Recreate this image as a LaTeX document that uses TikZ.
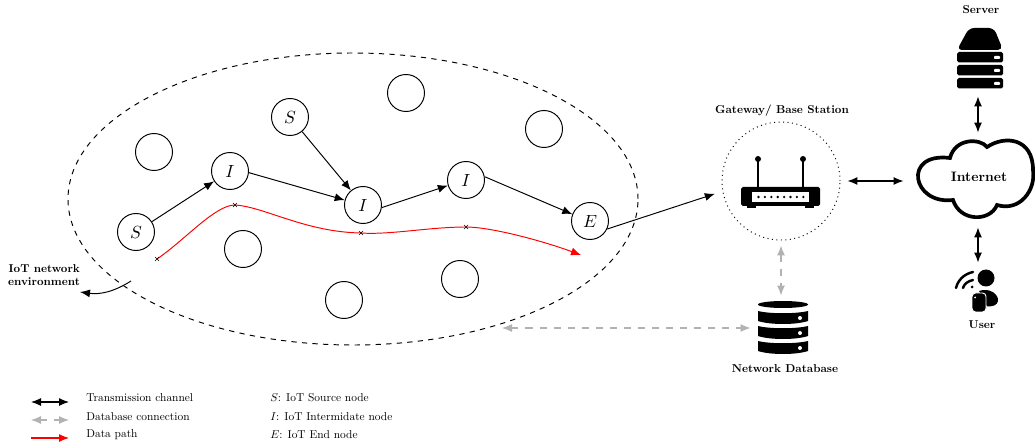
\documentclass[tikz,border=0pt]{standalone}
\usetikzlibrary{
    arrows.meta,
    positioning,
    shapes.geometric,
    shapes.misc
}
\tikzset{
    every picture/.style = {
        > = {Latex[length=2mm, width=1.6mm]},
        line width = 0.55pt
    },
    iot/.style = {
        draw,
        circle,
        inner sep = 0pt,
        minimum size = 7.4mm,
        font = \normalsize
    },
    envelope/.style = {
        draw,
        dashed,
        ellipse,
        inner sep = 0pt,
        minimum width = 11.4cm,
        minimum height = 5.84cm
    },
    holder/.style = {
        inner sep = 0pt,
        minimum width = #1
    },
    title/.style = {
        inner sep = 0pt,
        transform shape,
        scale = 0.65,
        font = \bfseries,
        align = right
    },
    key/.style = {
        inner sep = 0pt,
        transform shape,
        scale = 0.65,
        anchor = west
    },
    link/.style = {<->, line width = 0.65pt},
    dblink/.style = {<->, line width = 0.65pt, gray!60, dash pattern = on 4pt off 4pt},
    waypoint/.style = {
        cross out,
        draw = black,
        line width = 0.3pt,
        inner sep = 0pt,
        minimum size = 2pt
    }
}

\begin{document}
\begin{tikzpicture}[x = 0.2mm, y = -0.2mm]
    \useasboundingbox (0, 0) rectangle (1035, 444);

    % environment and its nodes
    \node[envelope] (env) at (353, 199) {};
    \node[iot] (s1) at (136, 232) {$S$};
    \node[iot] (i1) at (230, 171) {$I$};
    \node[iot] (s2) at (290, 117) {$S$};
    \node[iot] (i2) at (363, 205) {$I$};
    \node[iot] (i3) at (466, 180) {$I$};
    \node[iot] (e1) at (590, 221) {$E$};
    \node[iot] (o1) at (154, 152) {};
    \node[iot] (o2) at (243, 249) {};
    \node[iot] (o3) at (344, 300) {};
    \node[iot] (o4) at (460, 279) {};
    \node[iot] (o5) at (406, 93) {};
    \node[iot] (o6) at (544, 129) {};

    \draw[->] (s1) -- (i1);
    \draw[->] (i1.-5) -- (i2.165);
    \draw[->] (s2) -- (i2);
    \draw[->] (i2.-8) -- (i3.197);
    \draw[->] (i3.10) -- (e1.159);

    % data path
    \coordinate (d1) at (157, 259);
    \coordinate (d2) at (235, 205);
    \coordinate (d3) at (361, 233);
    \coordinate (d4) at (466, 227);
    \coordinate (d5) at (581, 255);
    \draw[->, red] (d1) .. controls (185, 240) and (215, 205) .. (d2)
        .. controls (265, 207) and (305, 232) .. (d3)
        .. controls (390, 235) and (430, 227) .. (d4)
        .. controls (490, 227) and (540, 240) .. (d5);
    \node[waypoint] (w1) at (d1) {};
    \node[waypoint] (w2) at (d2) {};
    \node[waypoint] (w3) at (d3) {};
    \node[waypoint] (w4) at (d4) {};

    % label of the environment
    \node[title] (envlabel) at (44, 275) {IoT network \\ environment};
    \coordinate (envfoot) at (131, 281);
    \coordinate (envtip) at (80, 292);
    \draw[->] (envfoot) to[bend left = 20] (envtip);

    % gateway
    \node[draw, circle, dotted, inner sep = 0pt, minimum size = 2.36cm] (gateway) at (781, 181) {};
    \node[title] (gatewaylabel) at (782, 111) {Gateway/ Base Station};
    \fill[rounded corners = 1pt] (741, 187) rectangle (820, 206);
    \fill (747, 204) rectangle (756, 208);
    \fill (805, 204) rectangle (814, 208);
    \fill[white] (752, 192) rectangle (809, 202);
    \fill (758, 159) circle (3);
    \fill (803, 159) circle (3);
    \draw[line width = 1.1pt] (758, 160) -- (758, 188);
    \draw[line width = 1.1pt] (803, 160) -- (803, 188);
    \foreach \x in {0, ..., 7}
        \fill (758.5 + 6.4 * \x, 197) circle (1.3);

    % server
    \node[holder = 9.2mm, minimum height = 12mm] (server) at (978, 58) {};
    \node[title] (serverlabel) at (981, 10) {Server};
    \fill[rounded corners = 3pt] (957, 50) -- (969, 28) -- (994, 28) -- (1003, 50) -- cycle;
    \foreach \y in {52, 65, 78} {
        \fill[rounded corners = 1pt] (957, \y) rectangle (1003, \y + 10.5);
        \fill[white, rounded corners = 0.5pt] (994, \y + 4) rectangle (1000, \y + 7);
    }

    % internet
    \node[holder = 24.8mm, minimum height = 15.6mm] (internet) at (978, 178) {};
    \draw[line width = 2.1pt, fill = white] (950, 158)
        .. controls (955, 138) and (980, 138) .. (987, 147)
        .. controls (1005, 135) and (1033, 138) .. (1033, 170)
        .. controls (1036, 190) and (1020, 212) .. (997, 205)
        .. controls (990, 222) and (960, 222) .. (953, 200)
        .. controls (912, 205) and (902, 152) .. (950, 158) -- cycle;
    \node[inner sep = 0pt, transform shape, scale = 0.78, font = \bfseries] (internetname) at (979, 177) {Internet};

    % user
    \node[holder = 9.2mm, minimum height = 8mm] (user) at (978, 290) {};
    \node[title] (userlabel) at (982, 325) {User};
    \fill (986, 278) circle (8.5);
    \fill (979, 291) .. controls (990, 287) and (999, 295) .. (998, 301)
        .. controls (997, 305) and (994, 306.5) .. (987, 306.5) -- cycle;
    \fill[draw = white, rounded corners = 2pt] (972, 293) rectangle (986, 312);
    \fill[white] (975, 297.5) circle (1);
    \draw[line width = 1.4pt, line cap = round] (956, 288) .. controls (958, 280) and (964, 274) .. (973, 272);
    \draw[line width = 1.4pt, line cap = round] (963, 288) .. controls (964, 284) and (968, 281) .. (973, 280);
    \fill (972, 287) circle (1.5);

    % database
    \node[holder = 9.6mm, minimum height = 10.8mm] (database) at (781, 327) {};
    \node[title] (databaselabel) at (785, 369) {Network Database};
    \fill (783, 304.5) ellipse (25 and 3.5);
    \foreach \y in {311, 326, 341} {
        \fill (758, \y) .. controls (770, \y + 3) and (796, \y + 3) .. (808, \y) -- (808, \y + 10)
            .. controls (796, \y + 14) and (770, \y + 14) .. (758, \y + 10) -- cycle;
        \fill[white] (800, \y + 7) circle (2);
    }

    % connections
    \draw[->, shorten > = 1.6mm] (e1.-25) -- (gateway.190);
    \draw[link, shorten < = 1.4mm, shorten > = 2.4mm] (gateway.east) -- (gateway.east -| internet.west);
    \draw[link, shorten < = 1.6mm, shorten > = 1.2mm] (server.south) -- (internet.north);
    \draw[link, shorten < = 2mm, shorten > = 1.4mm] (internet.south) -- (user.north);
    \draw[dblink, shorten < = 1mm, shorten > = 0.8mm] (gateway.south) -- (database.north);
    \coordinate (envport) at (502, 328);
    \draw[dblink, shorten > = 1.2mm] (envport) -- (database.west |- envport);

    % legend
    \coordinate (keya1) at (31, 402);
    \coordinate (keya2) at (69, 402);
    \coordinate (keyb1) at (31, 420);
    \coordinate (keyb2) at (69, 420);
    \coordinate (keyc1) at (31, 438);
    \coordinate (keyc2) at (69, 438);
    \draw[link] (keya1) -- (keya2);
    \draw[dblink] (keyb1) -- (keyb2);
    \draw[->, red, line width = 0.65pt] (keyc1) -- (keyc2);
    \node[key] (keyalabel) at (86, 398) {Transmission channel};
    \node[key] (keyblabel) at (86, 417) {Database connection};
    \node[key] (keyclabel) at (86, 435) {Data path};
    \node[key] (keys) at (270, 398) {$S$: IoT Source node};
    \node[key] (keyi) at (270, 417) {$I$: IoT Intermidate node};
    \node[key] (keye) at (270, 435) {$E$: IoT End node};
\end{tikzpicture}
\end{document}
